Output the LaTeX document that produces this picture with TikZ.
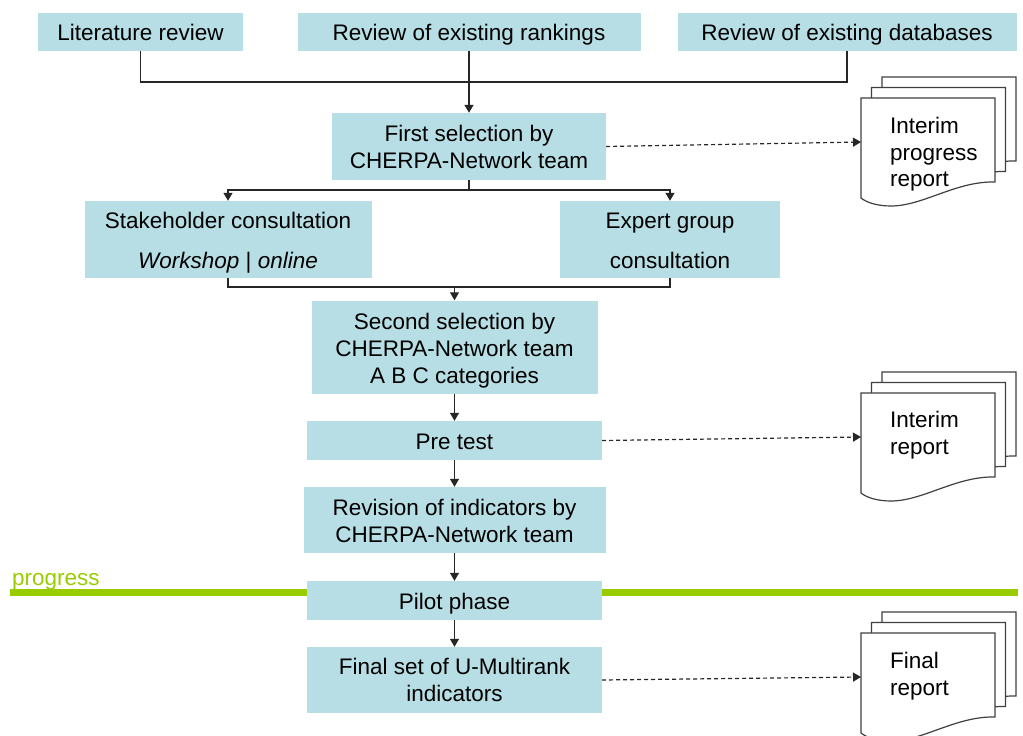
\documentclass[tikz,border=0pt]{standalone}
\usepackage{fontspec}
\setmainfont{Liberation Sans}
\usetikzlibrary{arrows.meta}
\definecolor{boxblue}{RGB}{183,222,228}
\definecolor{progreen}{RGB}{153,204,0}
\newcommand\fsz{\fontsize{22.5}{27}\selectfont}
\newcommand\docstack[2]{%
  \foreach \o in {21,10.5,0}{%
    \begin{scope}[shift={(#1+\o,#2-\o)}]
      \path[docpage] (0,0) -- (134,0) -- (134,84)
        .. controls (95,83) and (62,108) .. (30,108)
        .. controls (15,108) and (5,104) .. (0,100) -- cycle;
    \end{scope}}%
}
\begin{document}
\begin{tikzpicture}[x=1pt,y=-1pt,
  flowbox/.style={fill=boxblue, inner sep=0pt, align=center, font=\fsz},
  oneline/.style={text height=17pt, text depth=0pt},
  conn/.style={draw=black!85, line width=1.3pt},
  arrowtip/.style={-{Triangle[length=8pt,width=9pt]}},
  dashconn/.style={draw=black!85, line width=1.2pt, dash pattern=on 4pt off 3pt, -{Triangle[length=8pt,width=9pt]}},
  docpage/.style={fill=white, draw=black!75, line width=1.2pt},
  doctext/.style={font=\fontsize{22.5}{26.5}\selectfont, align=left, anchor=north west, inner sep=0pt}]
\useasboundingbox (0,0) rectangle (1023,736);

% progress line
\draw[progreen, line width=6.5pt] (10,592.5) -- (1018,592.5);
\node[anchor=base west, inner sep=0pt, text=progreen, font=\fsz] (prog) at (12,585) {progress};

% boxes
\node[flowbox, oneline, minimum width=205pt, minimum height=38pt] (lit) at (140.5,31.5) {Literature review};
\node[flowbox, oneline, minimum width=343pt, minimum height=38pt] (rank) at (469,31.5) {Review of existing rankings};
\node[flowbox, oneline, minimum width=339pt, minimum height=38pt] (db) at (847,31.5) {Review of existing databases};
\node[flowbox, minimum width=274pt, minimum height=67pt] (fs) at (469,146.5) {First selection by\\CHERPA-Network team};
\node[flowbox, minimum width=287pt, minimum height=77pt] (sh) at (228,239.5) {\rule{0pt}{22.5pt}Stakeholder consultation\\[13pt]\textit{Workshop} | \textit{online}};
\node[flowbox, minimum width=220pt, minimum height=77pt] (ex) at (670,239.5) {\rule{0pt}{19pt}Expert group\\[13pt]consultation};
\node[flowbox, minimum width=286pt, minimum height=93pt] (ss) at (454.5,347) {\rule{0pt}{24pt}Second selection by\\CHERPA-Network team\\A B C categories};
\node[flowbox, oneline, minimum width=295pt, minimum height=39pt] (pt) at (454.5,440.5) {Pre test};
\node[flowbox, minimum width=302pt, minimum height=66pt] (rev) at (454.5,520) {\rule{0pt}{19pt}Revision of indicators by\\CHERPA-Network team};
\node[flowbox, oneline, minimum width=295pt, minimum height=39pt] (pil) at (454.5,600.5) {Pilot phase};
\node[flowbox, minimum width=295pt, minimum height=66pt] (fin) at (454.5,680) {Final set of U-Multirank\\indicators};

% documents
\docstack{861}{98}
\docstack{861}{393}
\docstack{861}{633}
\node[doctext] (t1) at (890,117) {Interim\\progress\\report};
\node[doctext] (t2) at (890,411) {Interim\\report};
\node[doctext] (t3) at (890,652) {Final\\report};
\coordinate (d1) at (861,142);
\coordinate (d2) at (861,437);
\coordinate (d3) at (861,677);

% connectors
\coordinate (jtop) at (469,82);
\draw[conn] (lit.south) |- (db.south |- jtop) -- (db.south);
\draw[conn,arrowtip] (rank.south) -- (fs.north);
\coordinate (jsplit) at (469,190);
\draw[conn] (fs.south) -- (jsplit);
\draw[conn,arrowtip] (jsplit) -| (sh.north);
\draw[conn,arrowtip] (jsplit) -| (ex.north);
\coordinate (jmerge) at (454.5,287);
\draw[conn] (sh.south) |- (ex.south |- jmerge) -- (ex.south);
\draw[conn,arrowtip] (jmerge) -- (ss.north);
\draw[conn,arrowtip] (ss.south) -- (pt.north);
\draw[conn,arrowtip] (pt.south) -- (rev.north);
\draw[conn,arrowtip] (rev.south) -- (pil.north);
\draw[conn,arrowtip] (pil.south) -- (fin.north);

\draw[dashconn] (fs.east) -- (d1);
\draw[dashconn] (pt.east) -- (d2);
\draw[dashconn] (fin.east) -- (d3);
\end{tikzpicture}
\end{document}
